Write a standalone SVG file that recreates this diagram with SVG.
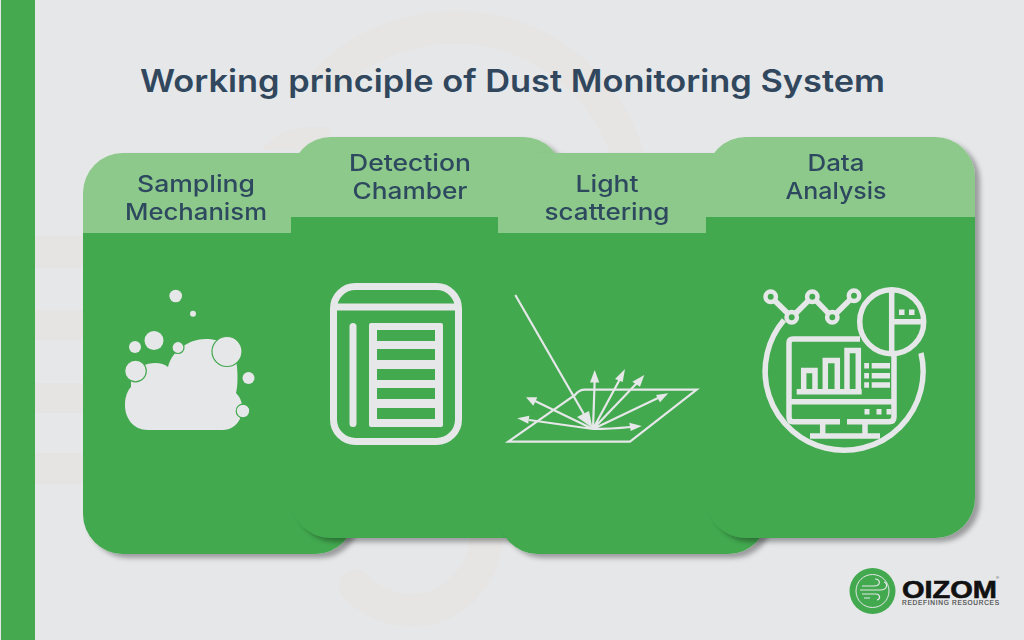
<svg xmlns="http://www.w3.org/2000/svg" width="1024" height="640" viewBox="0 0 1024 640">
<style>
.bgs{fill:none;stroke:#e6e5e3;stroke-width:33;stroke-linecap:round}
.hd{fill:#8cc98a}
.bd{fill:#43a94f}
.lb{font-family:Inter,"Open Sans","Liberation Sans",sans-serif;font-size:23px;font-weight:500;fill:#2e4a5f;text-anchor:middle}
.ic{fill:#e6e7e9}
.is{fill:none;stroke:#e6e7e9;stroke-width:5.5}
.ring{fill:#e6e7e9;stroke:#43a94f;stroke-width:1.2}
.ar{fill:none;stroke:#e6e7e9;stroke-width:2.2}
.gb{fill:#43a94f}
.nd{fill:#43a94f;stroke:#e6e7e9;stroke-width:4.5}
</style>
<defs>
<filter id="sh" x="-10%" y="-10%" width="120%" height="120%">
<feDropShadow dx="5" dy="4" stdDeviation="2.5" flood-color="#000" flood-opacity=".33"/>
</filter>
</defs>
<rect width="1024" height="640" fill="#e6e7e9"/>
<g id="background">
<path class="bgs" style="stroke-linecap:butt" d="M322 85A181 181 0 0 1 627 153L636 207"/>
<path class="bgs" d="M355 586C385 615 430 620 462 590C482 570 488 550 485 530"/>
<path d="M262 150Q280 127 310 127L330 127L330 150Z" fill="#e6e5e3"/>
<rect x="35" y="236" width="60" height="32" fill="#e5e4e2"/>
<rect x="35" y="310" width="60" height="30" fill="#e5e4e2"/>
<rect x="35" y="383" width="60" height="30" fill="#e5e4e2"/>
<rect x="35" y="453" width="60" height="31" fill="#e5e4e2"/>
</g>
<rect id="sidebar" x="1" y="0" width="34" height="640" fill="#45a94f"/>
<text id="title" x="512.5" y="92" textLength="745" lengthAdjust="spacingAndGlyphs" style="font-family:Inter,'Open Sans','Liberation Sans',sans-serif;font-size:31px;font-weight:600;fill:#31475e;text-anchor:middle">Working principle of Dust Monitoring System</text>

<g id="card-sampling" filter="url(#sh)">
<path class="hd" d="M83 233V193A40 40 0 0 1 123 153H315A40 40 0 0 1 355 193V233Z"/>
<path class="bd" d="M83 233H355V514A40 40 0 0 1 315 554H123A40 40 0 0 1 83 514Z"/>
<text class="lb" x="196" y="192" textLength="118" lengthAdjust="spacingAndGlyphs">Sampling</text>
<text class="lb" x="196" y="220" textLength="142" lengthAdjust="spacingAndGlyphs">Mechanism</text>
<g>
<circle class="ic" cx="175.7" cy="296" r="6.3"/><circle class="ic" cx="193" cy="313.7" r="3"/>
<circle class="ic" cx="154" cy="340.5" r="9.5"/><circle class="ic" cx="135" cy="347" r="6"/>
<path class="ic" d="M148 430C133 430 125 418 125 405C125 396 128 390 131 387L131 375C140 362 160 360 168 367C172 350 190 339 205 339C222 339 232 345 236 360C238 370 238 385 236 393C241 398 243 405 242 412C240 424 232 430 222 430Z"/>
<circle class="ring" cx="178" cy="347.5" r="6"/><circle class="ring" cx="227" cy="351.5" r="15"/>
<circle class="ring" cx="135.5" cy="371" r="10.8"/><circle class="ic" cx="248.5" cy="378" r="6"/>
<circle class="ring" cx="243" cy="411" r="6.8"/>
</g>
</g>

<g id="card-detection" filter="url(#sh)">
<path class="hd" d="M291 217V177A40 40 0 0 1 331 137H523A40 40 0 0 1 563 177V217Z"/>
<path class="bd" d="M291 217H563V498A40 40 0 0 1 523 538H331A40 40 0 0 1 291 498Z"/>
<text class="lb" x="410" y="171" textLength="122" lengthAdjust="spacingAndGlyphs">Detection</text>
<text class="lb" x="410" y="199" textLength="115" lengthAdjust="spacingAndGlyphs">Chamber</text>
<g>
<rect class="is" x="333.5" y="286.5" width="125" height="155" rx="22" style="stroke-width:7"/>
<rect class="ic" x="334" y="303.500" width="125" height="7"/>
<rect class="ic" x="349.500" y="323" width="7" height="104" rx="3.500"/>
<rect class="ic" x="369" y="323" width="74" height="104" rx="2"/>
<rect class="gb" x="377" y="330" width="58" height="11"/><rect class="gb" x="377" y="349" width="58" height="11"/>
<rect class="gb" x="377" y="369" width="58" height="11"/><rect class="gb" x="377" y="388" width="58" height="11"/>
<rect class="gb" x="377" y="408" width="58" height="11"/>
</g>
</g>

<g id="card-scattering" filter="url(#sh)">
<path class="hd" d="M498 233V193A40 40 0 0 1 538 153H728A40 40 0 0 1 768 193V233Z"/>
<path class="bd" d="M498 233H768V514A40 40 0 0 1 728 554H538A40 40 0 0 1 498 514Z"/>
<text class="lb" x="607" y="192" textLength="63" lengthAdjust="spacingAndGlyphs">Light</text>
<text class="lb" x="607" y="220" textLength="125" lengthAdjust="spacingAndGlyphs">scattering</text>
<g>
<path class="ar" d="M630 441.700L696.700 389.700H585Q579 389.700 575 395L508.300 441.700Z"/>
<path class="ar" d="M515.300 295L585 416"/>
<polygon class="ic" points="592.500,428 577,417 589,411"/>
<path class="ar" d="M593 429L594.700 380M593 429L620 379M593 429L637 383M593 429L658 398M593 429Q610 429 631 427M593 429L535 401M593 429Q565 425 529 420"/>
<polygon class="ic" points="594.700,370 590,382.500 599.300,382.500"/>
<polygon class="ic" points="625,369 615,379 622.700,382"/>
<polygon class="ic" points="644.300,375 632.300,381.700 640,386.700"/>
<polygon class="ic" points="668.300,393.300 656,395 660,402.300"/>
<polygon class="ic" points="641.700,426 629.300,422.700 630.700,431"/>
<polygon class="ic" points="526,397.300 537.300,397.300 533.300,405.700"/>
<polygon class="ic" points="517.300,418.300 529.300,415.700 528.300,423.700"/>
</g>
</g>

<g id="card-analysis" filter="url(#sh)">
<path class="hd" d="M706 217V177A40 40 0 0 1 746 137H935A40 40 0 0 1 975 177V217Z"/>
<path class="bd" d="M706 217H975V498A40 40 0 0 1 935 538H746A40 40 0 0 1 706 498Z"/>
<text class="lb" x="836" y="171" textLength="57" lengthAdjust="spacingAndGlyphs">Data</text>
<text class="lb" x="836" y="199" textLength="101" lengthAdjust="spacingAndGlyphs">Analysis</text>
<g>
<path class="is" d="M784 320A79 79 0 1 0 921 353"/>
<path class="is" d="M770.700 296.700L791.700 317.300L812.300 296.700L832.300 317.300L854 295.700"/>
<circle class="nd" cx="770.700" cy="296.700" r="5.200"/>
<circle class="nd" cx="791.700" cy="317.300" r="5.200"/>
<circle class="nd" cx="812.300" cy="296.700" r="5.200"/>
<circle class="nd" cx="832.300" cy="317.300" r="5.200"/>
<circle class="nd" cx="854" cy="295.700" r="5.200"/>
<path class="is" d="M860 339H793Q789 339 789 343V417Q789 421.700 793 421.700H840M847 421.700H889Q894 421.700 894 417V350"/>
<path class="is" d="M789 401.700H894M822.700 422V436M865 422V436M810 436H880"/>
<path class="is" d="M796.700 391.700H861.700M803.700 391.700V370.500H815V391.700M825.300 391.700V360.500H837.300V391.700M847 391.700V350.500H858.300V391.700"/>
<path class="is" d="M864.200 365.700H869M871.700 365.700H890M864.200 375.700H869M871.700 375.700H890M864.200 385H869M871.700 385H890"/>
<path class="is" d="M864.500 411.700H869.500M876.500 411.700H881.500M886.500 411.700H891.500"/>
<circle class="gb" cx="891.700" cy="321.700" r="32" style="stroke:#e6e7e9;stroke-width:5.500"/>
<path class="is" d="M891.700 290V353M891.700 321.700H923"/>
<path class="is" d="M899 312.300H904.500M909 312.300H914.500"/>
</g>
</g>

<g id="logo">
<circle cx="872.500" cy="591" r="23" fill="#43a94f"/>
<circle cx="872.500" cy="591" r="16.500" fill="none" stroke="#e6e7e9" stroke-width="1"/>
<path d="M862 586H874C881 586 881 579 875 579M860 590H880C888 590 888 583 884 582M862 594H876C880 594 881 599 877 600M864 598H870" fill="none" stroke="#e6e7e9" stroke-width="1.200"/>
<text x="902" y="598" textLength="95" lengthAdjust="spacingAndGlyphs" style="font-family:'Liberation Sans',Arial,sans-serif;font-size:24px;font-weight:700;fill:#111;stroke:#111;stroke-width:.6">OIZOM</text>
<text x="902" y="605" textLength="97" style="font-family:'Liberation Sans',Arial,sans-serif;font-size:6.500px;font-weight:400;fill:#444;stroke:#444;stroke-width:.15">REDEFINING RESOURCES</text>
<text x="996" y="579" style="font-family:'Liberation Sans',Arial,sans-serif;font-size:4px;fill:#333">®</text>
</g>
</svg>
